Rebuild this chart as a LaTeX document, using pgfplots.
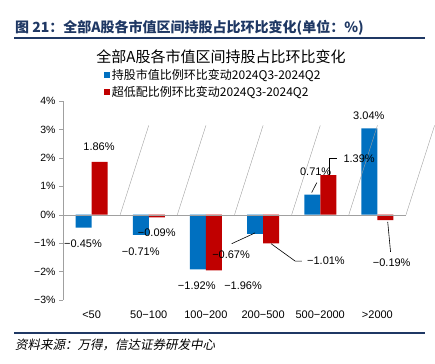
\documentclass[border=0pt]{standalone}
\usepackage{fontspec}
\setmainfont{Liberation Sans}
\newfontfamily\cjk{Noto Sans CJK SC}
\newfontfamily\cjkit[FakeSlant=0.2]{Noto Sans CJK SC}
\usepackage{pgfplots}
\pgfplotsset{compat=1.18}
\definecolor{cblue}{RGB}{0,112,192}
\definecolor{cred}{RGB}{192,0,0}
\definecolor{hdr}{RGB}{31,56,100}
\definecolor{axgray}{RGB}{160,160,160}
\pgfplotsset{sqlegend/.style={legend image code/.code={\fill[##1] (0pt,-2.8pt) rectangle (5.6pt,2.8pt);}}}
\begin{document}
\begin{tikzpicture}
\path[use as bounding box] (0pt,0pt) rectangle (435pt,363pt);
\node[anchor=west, text=hdr, font=\cjk\bfseries\fontsize{14}{16}\selectfont, inner sep=0pt] at (15pt,335pt) {图 21：全部A股各市值区间持股占比环比变化(单位：\%)};
\draw[hdr, line width=1.5pt] (14pt,325pt) -- (425pt,325pt);
\node[font=\cjk\fontsize{15}{17}\selectfont] at (221pt,306pt) {全部A股各市值区间持股占比环比变化};
\draw[hdr, line width=1.2pt] (14pt,30pt) -- (425pt,30pt);
\node[anchor=west, font=\cjkit\fontsize{12.5}{14}\selectfont, inner sep=0pt] at (15pt,18pt) {资料来源：万得，信达证券研发中心};
\begin{axis}[
  at={(63pt,63pt)}, anchor=south west, scale only axis,
  width=343pt, height=199pt,
  xmin=-0.5, xmax=5.5, ymin=-3, ymax=4,
  axis lines=left, axis line style={-, draw=axgray},
  x axis line style={draw=none},
  xtick={0,1,2,3,4,5},
  xticklabels={<50,50−100,100−200,200−500,500−2000,>2000},
  x tick style={draw=none},
  xticklabel style={yshift=-3pt, font=\fontsize{11}{13}\selectfont},
  ytick={-3,-2,-1,0,1,2,3,4},
  yticklabels={−3\%,−2\%,−1\%,0\%,1\%,2\%,3\%,4\%},
  yticklabel style={font=\fontsize{10.5}{12}\selectfont},
  y tick style={draw=axgray},
  tick align=outside, major tick length=4pt,
  legend style={at={(0.12,1.171)}, anchor=north west, draw=none, fill=none,
    font=\cjk\fontsize{12}{14}\selectfont, row sep=1pt, inner sep=0pt,
    /tikz/every even column/.append style={column sep=2pt}},
  legend cell align=left,
  clip=false,
]
\addplot[ybar, bar width=16pt, bar shift=-8pt, fill=cblue, draw=none, sqlegend] coordinates {(0,-0.45) (1,-0.71) (2,-1.92) (3,-0.67) (4,0.71) (5,3.04)};
\addlegendentry{持股市值比例环比变动2024Q3-2024Q2}
\addplot[ybar, bar width=16pt, bar shift=8pt, fill=cred, draw=none, sqlegend] coordinates {(0,1.86) (1,-0.09) (2,-1.96) (3,-1.01) (4,1.39) (5,-0.19)};
\addlegendentry{超低配比例环比变动2024Q3-2024Q2}
\draw[axgray] (axis cs:-0.5,0) -- (axis cs:5.5,0);
\draw[axgray] (axis cs:0.5,0) -- ++(0,4pt);
\draw[axgray] (axis cs:1.5,0) -- ++(0,4pt);
\draw[axgray] (axis cs:2.5,0) -- ++(0,4pt);
\draw[axgray] (axis cs:3.5,0) -- ++(0,4pt);
\draw[axgray] (axis cs:4.5,0) -- ++(0,4pt);
\draw[axgray] (axis cs:5.5,0) -- ++(0,4pt);
\node[font=\fontsize{11}{13}\selectfont, inner sep=0pt] at (axis cs:0.13,2.40) {1.86\%};
\node[font=\fontsize{11}{13}\selectfont, inner sep=0pt] at (axis cs:-0.15,-1.02) {−0.45\%};
\node[font=\fontsize{11}{13}\selectfont, inner sep=0pt] at (axis cs:1.14,-0.64) {−0.09\%};
\node[font=\fontsize{11}{13}\selectfont, inner sep=0pt] at (axis cs:0.86,-1.31) {−0.71\%};
\node[font=\fontsize{11}{13}\selectfont, inner sep=0pt] at (axis cs:1.84,-2.51) {−1.92\%};
\node[font=\fontsize{11}{13}\selectfont, inner sep=0pt] at (axis cs:2.65,-2.51) {−1.96\%};
\node[font=\fontsize{11}{13}\selectfont, inner sep=0pt] at (axis cs:2.44,-1.41) {−0.67\%};
\node[font=\fontsize{11}{13}\selectfont, inner sep=0pt] at (axis cs:4.10,-1.63) {−1.01\%};
\node[font=\fontsize{11}{13}\selectfont, inner sep=0pt] at (axis cs:3.92,1.52) {0.71\%};
\node[font=\fontsize{11}{13}\selectfont, inner sep=0pt] at (axis cs:4.68,1.98) {1.39\%};
\node[font=\fontsize{11}{13}\selectfont, inner sep=0pt] at (axis cs:4.85,3.50) {3.04\%};
\node[font=\fontsize{11}{13}\selectfont, inner sep=0pt] at (axis cs:5.25,-1.70) {−0.19\%};
\draw[black, line width=0.6pt] (axis cs:2.45,-1.02) -- (axis cs:2.86,-0.64);
\draw[black, line width=0.6pt] (axis cs:3.14,-1.02) -- (axis cs:3.56,-1.63) -- (axis cs:3.68,-1.63);
\draw[black, line width=0.6pt] (axis cs:3.85,0.78) -- (axis cs:3.94,1.13);
\draw[black, line width=0.6pt] (axis cs:4.15,1.41) -- (axis cs:4.15,1.98) -- (axis cs:4.29,1.98);
\draw[black, line width=0.6pt] (axis cs:5.18,-0.25) -- (axis cs:5.23,-1.31);
\end{axis}
\end{tikzpicture}
\end{document}
